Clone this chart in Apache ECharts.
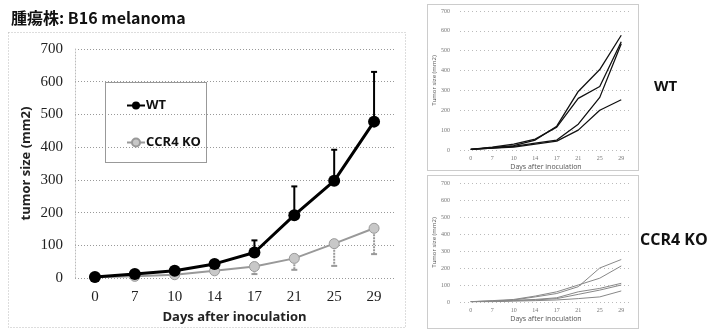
<!DOCTYPE html>
<html>
<head>
<meta charset="utf-8">
<script src="https://cdn.jsdelivr.net/npm/echarts@6/dist/echarts.min.js"></script>
<style>
  html, body { margin: 0; padding: 0; background: #fff; }
  #chart { width: 723px; height: 329px; }
</style>
</head>
<body>
<div id="chart"></div>
<script>
// days after inoculation
const days = ['0', '7', '10', '14', '17', '21', '25', '29']
const yTicks = [0, 100, 200, 300, 400, 500, 600, 700]

// group means (mm2) and error (SD, one side only as drawn)
const wtMean = [3, 12, 22, 43, 78, 192, 297, 478]
const wtErr = [1, 3, 4, 5, 37, 88, 95, 152]
const koMean = [2, 5, 10, 22, 35, 60, 105, 152]
const koErr = [1, 2, 3, 5, 23, 35, 68, 79]

// individual mice, WT
const wt1 = [3, 12, 22, 50, 120, 295, 405, 578]
const wt2 = [3, 15, 30, 55, 115, 260, 320, 545]
const wt3 = [3, 10, 18, 35, 50, 130, 265, 535]
const wt4 = [3, 10, 15, 30, 45, 100, 200, 253]

// individual mice, CCR4 KO
const ko1 = [2, 5, 12, 30, 50, 90, 200, 250]
const ko2 = [2, 8, 15, 35, 60, 100, 140, 212]
const ko3 = [2, 5, 10, 15, 25, 60, 80, 110]
const ko4 = [2, 3, 8, 12, 20, 45, 70, 100]
const ko5 = [2, 2, 5, 8, 12, 20, 30, 65]

const numFont = 'Liberation Serif'
const txtFont = 'Open Sans'

function errBars(mean, err, dir, color, width, dash) {
  return {
    type: 'custom',
    xAxisIndex: 0,
    yAxisIndex: 0,
    z: 1,
    data: mean.map((m, i) => [i, m, m + dir * err[i]]),
    renderItem: function (params, api) {
      const p0 = api.coord([api.value(0), api.value(1)])
      const p1 = api.coord([api.value(0), api.value(2)])
      const st = { stroke: color, lineWidth: width, lineDash: dash }
      return {
        type: 'group',
        children: [
          { type: 'line', shape: { x1: p0[0], y1: p0[1], x2: p1[0], y2: p1[1] }, style: st },
          { type: 'line', shape: { x1: p1[0] - 3, y1: p1[1], x2: p1[0] + 3, y2: p1[1] }, style: { stroke: color, lineWidth: width } }
        ]
      }
    }
  }
}

function smallGrid(left, top, width, height) {
  return { left: left, top: top, width: width, height: height }
}

function smallX(idx) {
  return {
    type: 'category', gridIndex: idx, data: days,
    name: 'Days after inoculation', nameLocation: 'middle', nameGap: 13,
    nameTextStyle: { fontSize: 7, color: '#555', fontFamily: txtFont },
    axisLine: { show: false }, axisTick: { show: false },
    axisLabel: { fontSize: 6, color: '#777', margin: 5, fontFamily: numFont }
  }
}

function smallY(idx) {
  return {
    type: 'value', gridIndex: idx, min: 0, max: 700, interval: 100,
    name: 'Tumor size (mm2)', nameLocation: 'middle', nameGap: 20,
    nameTextStyle: { fontSize: 6, color: '#555', fontFamily: txtFont },
    axisLine: { show: false }, axisTick: { show: false },
    axisLabel: { fontSize: 6, color: '#777', margin: 10, fontFamily: numFont },
    splitLine: { lineStyle: { color: '#bbb', type: [1, 3] } }
  }
}

function thinLine(data, g, color, w) {
  return {
    type: 'line', xAxisIndex: g, yAxisIndex: g, data: data,
    symbol: 'none', lineStyle: { color: color, width: w }, silent: true
  }
}

const myChart = echarts.init(document.getElementById('chart'))

const options = {
  backgroundColor: '#fff',
  animation: false,
  title: {
    text: '腫瘍株: B16 melanoma',
    left: 6, top: 5,
    textStyle: { fontSize: 16, fontWeight: 'bold', color: '#111', fontFamily: 'Noto Sans CJK JP' }
  },
  legend: {
    orient: 'vertical',
    left: 121, top: 94,
    itemGap: 24,
    itemWidth: 18, itemHeight: 10,
    data: ['WT', 'CCR4 KO'],
    selectedMode: false,
    textStyle: { fontSize: 13, fontWeight: 'bold', color: '#111', fontFamily: txtFont, padding: [0, 0, 0, -4] }
  },
  grid: [
    { left: 75, right: 329, top: 49, bottom: 45 },
    smallGrid(460, 11, 172, 139),
    smallGrid(460, 183, 172, 119)
  ],
  xAxis: [
    {
      type: 'category', gridIndex: 0, data: days,
      name: 'Days after inoculation', nameLocation: 'middle', nameGap: 33,
      nameTextStyle: { fontSize: 13, fontWeight: 'bold', color: '#222', fontFamily: txtFont },
      axisLine: { show: false },
      axisTick: { show: false },
      axisLabel: { fontSize: 15, color: '#222', margin: 12, fontFamily: numFont }
    },
    smallX(1),
    smallX(2)
  ],
  yAxis: [
    {
      type: 'value', gridIndex: 0, min: 0, max: 700, interval: 100,
      name: 'tumor size (mm2)', nameLocation: 'middle', nameGap: 42,
      nameTextStyle: { fontSize: 13, fontWeight: 'bold', color: '#222', fontFamily: txtFont },
      axisLine: { show: true, lineStyle: { color: '#bbb', type: [1, 2] } },
      axisTick: { show: false },
      axisLabel: { fontSize: 15, color: '#222', margin: 12, fontFamily: numFont },
      splitLine: { lineStyle: { color: '#999', type: [1, 2] } }
    },
    smallY(1),
    smallY(2)
  ],
  series: [
    errBars(wtMean, wtErr, 1, '#000', 2, null),
    errBars(koMean, koErr, -1, '#999', 2, [2, 1]),
    {
      name: 'CCR4 KO', type: 'line', xAxisIndex: 0, yAxisIndex: 0, z: 3,
      data: koMean,
      symbol: 'circle', symbolSize: 10,
      lineStyle: { color: '#999', width: 2 },
      itemStyle: { color: '#c8c8c8', borderColor: '#999', borderWidth: 1 }
    },
    {
      name: 'WT', type: 'line', xAxisIndex: 0, yAxisIndex: 0, z: 4,
      data: wtMean,
      symbol: 'circle', symbolSize: 12,
      lineStyle: { color: '#000', width: 3 },
      itemStyle: { color: '#000' }
    },
    thinLine(wt1, 1, '#111', 1.3),
    thinLine(wt2, 1, '#111', 1.3),
    thinLine(wt3, 1, '#111', 1.3),
    thinLine(wt4, 1, '#111', 1.3),
    thinLine(ko1, 2, '#888', 1),
    thinLine(ko2, 2, '#888', 1),
    thinLine(ko3, 2, '#888', 1),
    thinLine(ko4, 2, '#888', 1),
    thinLine(ko5, 2, '#888', 1)
  ],
  graphic: [
    // main chart frame
    { type: 'rect', shape: { x: 8.5, y: 32.5, width: 397, height: 295 }, style: { fill: 'none', stroke: '#bbb', lineWidth: 1, lineDash: [1, 2] }, z: -1 },
    // legend frame
    { type: 'rect', shape: { x: 105.5, y: 82.5, width: 101, height: 80 }, style: { fill: '#fff', stroke: '#333', lineWidth: 1, lineDash: [1, 1] }, z: 0 },
    // small panels
    { type: 'rect', shape: { x: 427.5, y: 4.5, width: 211, height: 166 }, style: { fill: 'none', stroke: '#999', lineWidth: 1, lineDash: [1, 1] } },
    { type: 'rect', shape: { x: 427.5, y: 175.5, width: 211, height: 153 }, style: { fill: 'none', stroke: '#999', lineWidth: 1, lineDash: [1, 1] } },
    { type: 'text', left: 654, top: 79, style: { text: 'WT', fontSize: 15, fontWeight: 'bold', fill: '#111', fontFamily: txtFont } },
    { type: 'text', left: 640, top: 232, style: { text: 'CCR4 KO', fontSize: 16, fontWeight: 'bold', fill: '#111', fontFamily: txtFont } }
  ]
}

myChart.setOption(options)
window.addEventListener('resize', function () {
  myChart.resize()
})
</script>
</body>
</html>
